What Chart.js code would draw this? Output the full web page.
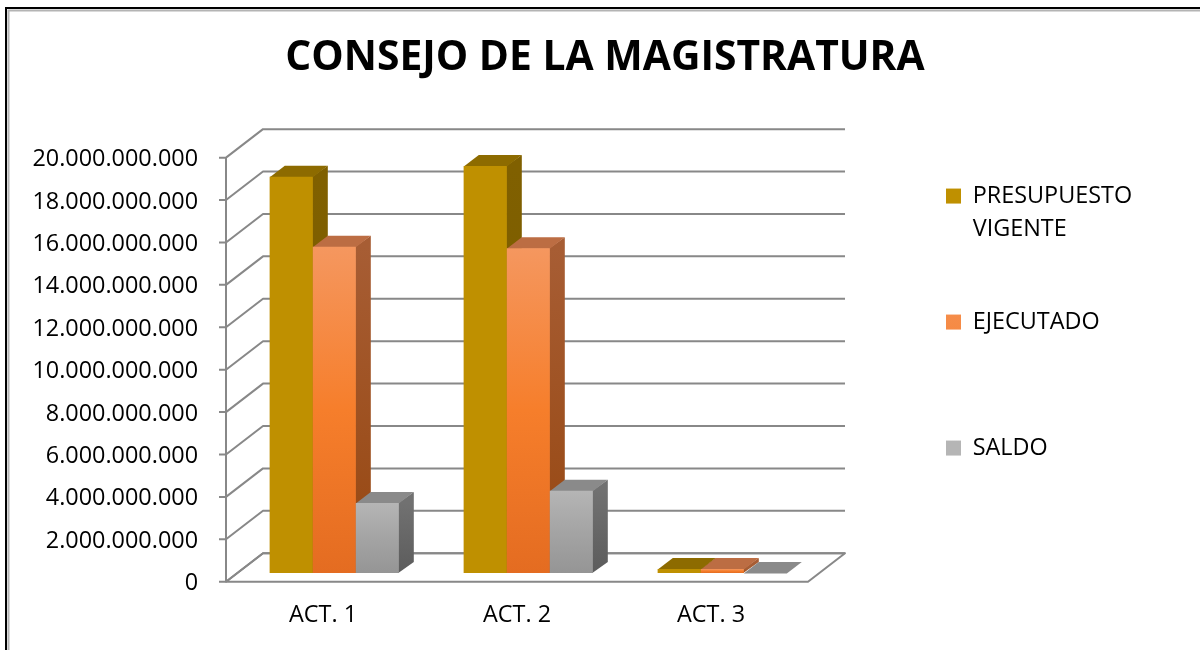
<!DOCTYPE html>
<html lang="es">
<head>
<meta charset="utf-8">
<title>Consejo de la Magistratura</title>
<script src="https://cdn.jsdelivr.net/npm/chart.js@4/dist/chart.umd.min.js"></script>
<style>
  html, body { margin: 0; padding: 0; background: #fff; }
</style>
</head>
<body>
<canvas id="grafico" width="1200" height="650"></canvas>
<script>
// ====================================
//  DATOS
// ====================================
const categories = ["ACT. 1", "ACT. 2", "ACT. 3"];
const presupuestoVigente = [18690000000, 19200000000, 190000000];
const ejecutado = [15390000000, 15320000000, 185000000];
const saldo = [3300000000, 3880000000, 5000000];

const Y_MAX = 20000000000;
const Y_STEP = 2000000000;

const FONT = "'Open Sans', 'Liberation Sans', sans-serif";
const GRID_COLOR = "#888888";

// desplazamientos del efecto 3D (plano de barras -> frente / fondo)
const FRONT_DX = -11.3, FRONT_DY = 8.7;
const BACK_DX = 25.7, BACK_DY = -19.8;
const SIDE_DX = 15, SIDE_DY = -11;

// caras laterales y superiores de cada serie
const faces = [
  { side: ["#806000", "#785a00"], top: "#8d6b00" },
  { side: ["#a75d34", "#964710"], top: "#bc6d43" },
  { side: ["#717171", "#5c5c5c"], top: "#8a8a8a" },
];

// formato 20.000.000.000
function formatNumber(v) {
  return String(v).replace(/\B(?=(\d{3})+(?!\d))/g, ".");
}

// degradado vertical para la cara frontal
function frontGradient(stops, flat) {
  return (context) => {
    const chart = context.chart;
    if (!chart.chartArea || context.dataIndex === undefined) return flat;
    const yScale = chart.scales.y;
    const top = yScale.getPixelForValue(context.parsed.y);
    const base = yScale.getPixelForValue(0);
    if (!isFinite(top) || base - top < 1) return flat;
    const g = chart.ctx.createLinearGradient(0, top, 0, base);
    stops.forEach((c, i) => g.addColorStop(i / (stops.length - 1), c));
    return g;
  };
}

// ====================================
//  PLUGIN: fondo, paredes y barras 3D
// ====================================
const fondo3d = {
  id: "fondo3d",
  beforeDraw(chart) {
    const ctx = chart.ctx;
    ctx.save();
    ctx.fillStyle = "#fff";
    ctx.fillRect(0, 0, chart.width, chart.height);
    // marco
    ctx.strokeStyle = "#000";
    ctx.lineWidth = 2;
    ctx.beginPath();
    ctx.moveTo(6, 650);
    ctx.lineTo(6, 8);
    ctx.lineTo(1200, 8);
    ctx.stroke();
    ctx.strokeStyle = "#b4b4b4";
    ctx.beginPath();
    ctx.moveTo(8.5, 650);
    ctx.lineTo(8.5, 10.5);
    ctx.lineTo(1200, 10.5);
    ctx.stroke();
    ctx.restore();
  },
  beforeDatasetsDraw(chart) {
    const ctx = chart.ctx;
    const y = chart.scales.y;
    const { left, right } = chart.chartArea;
    const y0 = y.getPixelForValue(0);

    ctx.save();
    ctx.lineWidth = 2;
    ctx.strokeStyle = GRID_COLOR;
    ctx.lineJoin = "round";

    // piso
    ctx.beginPath();
    ctx.moveTo(left + FRONT_DX, y0 + FRONT_DY);
    ctx.lineTo(right + FRONT_DX, y0 + FRONT_DY);
    ctx.lineTo(right + BACK_DX, y0 + BACK_DY);
    ctx.lineTo(left + BACK_DX, y0 + BACK_DY);
    ctx.closePath();
    ctx.fillStyle = "#fff";
    ctx.fill();
    ctx.stroke();

    // lineas de division (pared izquierda + pared del fondo)
    y.ticks.forEach((t) => {
      const py = y.getPixelForValue(t.value);
      ctx.beginPath();
      ctx.moveTo(left + FRONT_DX - 7, py + FRONT_DY);
      ctx.lineTo(left + FRONT_DX, py + FRONT_DY);
      ctx.lineTo(left + BACK_DX, py + BACK_DY);
      ctx.lineTo(right + BACK_DX, py + BACK_DY);
      ctx.stroke();
    });

    // eje vertical frontal
    ctx.beginPath();
    ctx.moveTo(left + FRONT_DX, y.getPixelForValue(Y_MAX) + FRONT_DY);
    ctx.lineTo(left + FRONT_DX, y0 + FRONT_DY);
    ctx.stroke();
    ctx.restore();
  },
  afterDatasetsDraw(chart) {
    const ctx = chart.ctx;
    const metas = chart.data.datasets.map((d, i) => chart.getDatasetMeta(i));
    ctx.save();
    // de izquierda a derecha para que cada cara tape la anterior
    categories.forEach((cat, j) => {
      metas.forEach((meta, i) => {
        const el = meta.data[j];
        if (!el) return;
        const { x, y, base, width } = el.getProps(["x", "y", "base", "width"], true);
        const xl = x - width / 2;
        const xr = x + width / 2;

        // cara lateral
        const g = ctx.createLinearGradient(0, y, 0, base);
        g.addColorStop(0, faces[i].side[0]);
        g.addColorStop(1, faces[i].side[1]);
        ctx.fillStyle = g;
        ctx.beginPath();
        ctx.moveTo(xr - 0.5, y);
        ctx.lineTo(xr + SIDE_DX, y + SIDE_DY);
        ctx.lineTo(xr + SIDE_DX, base + SIDE_DY);
        ctx.lineTo(xr - 0.5, base);
        ctx.closePath();
        ctx.fill();

        // cara superior
        ctx.fillStyle = faces[i].top;
        ctx.beginPath();
        ctx.moveTo(xl, y + 0.5);
        ctx.lineTo(xr, y + 0.5);
        ctx.lineTo(xr + SIDE_DX, y + SIDE_DY);
        ctx.lineTo(xl + SIDE_DX, y + SIDE_DY);
        ctx.closePath();
        ctx.fill();

        // cara frontal (la dibuja la propia barra)
        el.draw(ctx);
      });
    });
    ctx.restore();
  },
};

// ====================================
//  GRAFICO
// ====================================
const ctx = document.getElementById("grafico").getContext("2d");

new Chart(ctx, {
  type: "bar",
  data: {
    labels: categories,
    datasets: [
      {
        label: "PRESUPUESTO VIGENTE",
        data: presupuestoVigente,
        backgroundColor: "#bf9000",
      },
      {
        label: "EJECUTADO",
        data: ejecutado,
        backgroundColor: frontGradient(["#f5975f", "#f67e2b", "#e46c21"], "#f07b35"),
      },
      {
        label: "SALDO",
        data: saldo,
        backgroundColor: frontGradient(["#b5b5b5", "#a4a4a4", "#959595"], "#a5a5a5"),
      },
    ],
  },
  options: {
    responsive: false,
    animation: false,
    layout: { padding: { left: 10, right: 0, top: 0, bottom: 20.4 } },
    datasets: {
      bar: {
        barPercentage: 1,
        categoryPercentage: 0.665,
        borderWidth: 0,
        clip: false,
      },
    },
    scales: {
      x: {
        grid: { display: false, drawTicks: false },
        border: { display: false },
        ticks: {
          color: "#000",
          font: { family: FONT, size: 23.4 },
          padding: 28.5,
          labelOffset: -11.3,
          maxRotation: 0,
        },
        afterFit: (scale) => { scale.height = 56.6; },
      },
      y: {
        min: 0,
        max: Y_MAX,
        grid: { display: false, drawTicks: false },
        border: { display: false },
        ticks: {
          stepSize: Y_STEP,
          color: "#000",
          font: { family: FONT, size: 23.4 },
          padding: 39.3,
          labelOffset: 10.5,
          callback: (v) => formatNumber(v),
        },
        afterFit: (scale) => { scale.width = 227.3; },
      },
      // espacio entre el grafico y la leyenda
      espacio: {
        type: "linear",
        position: "right",
        display: true,
        grid: { display: false, drawTicks: false },
        border: { display: false },
        ticks: { display: false },
        afterFit: (scale) => { scale.width = 99.7; },
      },
    },
    plugins: {
      title: {
        display: true,
        text: "CONSEJO DE LA MAGISTRATURA",
        color: "#000",
        font: { family: FONT, size: 40.8, weight: "bold", lineHeight: 1.2 },
        padding: { top: 33.8, bottom: 66.2 },
      },
      legend: {
        position: "right",
        align: "start",
        fullSize: false,
        maxWidth: 281,
        labels: {
          color: "#000",
          font: { family: FONT, size: 23.4, lineHeight: "33px" },
          boxWidth: 15,
          boxHeight: 15,
          padding: 27,
          generateLabels(chart) {
            const items = Chart.defaults.plugins.legend.labels.generateLabels(chart);
            items.forEach((it) => {
              const lines = it.text.split(" ");
              while (lines.length < 3) lines.push("");
              // espacios finales: la leyenda ocupa todo su ancho fijo
              lines[0] = lines[0].padEnd(22, " ");
              it.text = lines;
              it.lineWidth = 0;
            });
            return items;
          },
        },
        // titulo vacio: solo baja un poco los elementos
        title: { display: true, text: " ", font: { size: 7, lineHeight: 1.2 }, padding: 0 },
      },
      tooltip: { enabled: false },
    },
  },
  plugins: [fondo3d],
});
</script>
</body>
</html>
